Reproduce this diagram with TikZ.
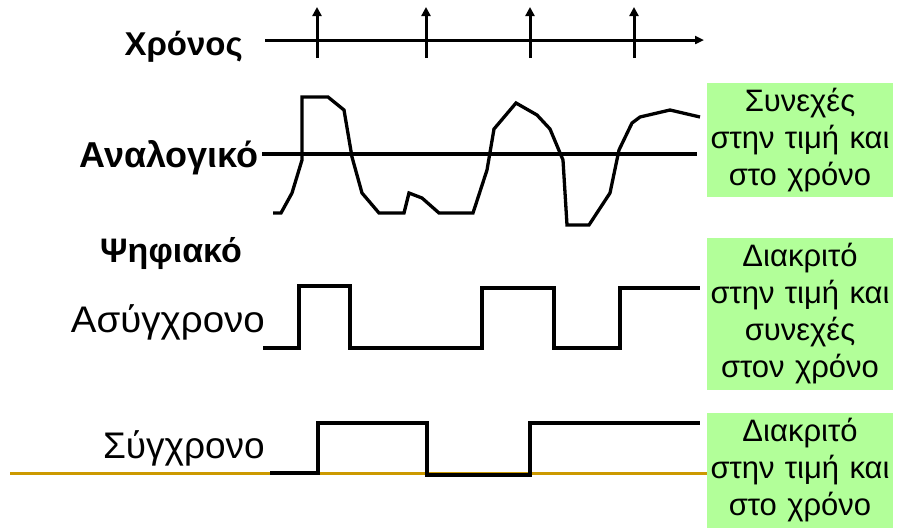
\documentclass[tikz,border=0pt]{standalone}
\usepackage{fontspec}
\setmainfont{Liberation Sans}
\usetikzlibrary{arrows.meta}
\definecolor{boxgreen}{RGB}{178,255,153}
\definecolor{ochre}{RGB}{204,153,0}
% slightly widened text
\newcommand{\widetext}[2]{\scalebox{#1}[1]{#2}}
\newcommand{\fsz}[1]{\fontsize{#1}{#1}\selectfont}
\begin{document}
\begin{tikzpicture}[x=1pt,y=-1pt,
  wave/.style={line width=3.3pt,line join=miter,black},
  axisline/.style={line width=3pt,black},
  tickarrow/.style={line width=3pt,-{Triangle[length=9pt,width=9pt]}},
  label/.style={inner sep=0pt,font=\fsz{37}},
  boldlabel/.style={inner sep=0pt,font=\bfseries},
  notebox/.style={fill=boxgreen,inner sep=0pt,minimum width=186pt,
    text width=186pt,align=center,font=\fontsize{31}{37}\selectfont}]
\useasboundingbox (0,0) rectangle (898,531);

% time axis with sampling instants
\draw[axisline,-{Triangle[length=9pt,width=8pt]}] (265,40) -- (704,40);
\foreach \t in {317,426,530,634}
  \draw[tickarrow] (\t,58) -- (\t,7);
\node[boldlabel,anchor=base east] (time) at (243,55) {\fsz{33}Χρόνος};

% analog signal
\node[boldlabel,anchor=base east] (analog) at (259,167) {\fsz{36}Αναλογικό};
\draw[axisline,line width=3.8pt] (262,154) -- (697,154);
\draw[wave] (273,213) -- (281,213) -- (292,193) -- (302,160) -- (302,97)
  -- (328,97) -- (344,110) -- (352,157) -- (362,193) -- (379,213)
  -- (404,213) -- (409,193) -- (422,198) -- (439,213) -- (473,213)
  -- (487,170) -- (494,129) -- (516,103) -- (537,115) -- (550,129)
  -- (563,160) -- (567,225) -- (589,225) -- (610,193) -- (619,150)
  -- (632,123) -- (640,117) -- (670,110) -- (700,117);
\node[notebox,minimum height=114pt] (n1) at (800,140)
  {Συνεχές\\στην τιμή και\\στο χρόνο};

% digital signals
\node[boldlabel,anchor=base] (digital) at (171,262) {\fsz{34}Ψηφιακό};

\node[label,anchor=base east] (async) at (265,332) {\widetext{1.04}{Ασύγχρονο}};
\draw[wave] (263,348) -- (299,348) -- (299,286) -- (350,286) -- (350,348)
  -- (482,348) -- (482,288) -- (554,288) -- (554,348) -- (620,348)
  -- (620,288) -- (700,288);
\node[notebox,minimum height=152pt] (n2) at (800,314)
  {Διακριτό\\στην τιμή και\\συνεχές\\στον χρόνο};

\node[label,anchor=base east] (sync) at (265,458) {Σύγχρονο};
\draw[ochre,line width=3pt] (10,473) -- (707,473);
\draw[wave] (270,473) -- (318,473) -- (318,423) -- (427,423) -- (427,475)
  -- (530,475) -- (530,423) -- (700,423);
\node[notebox,minimum height=115pt] (n3) at (800,470.5)
  {Διακριτό\\στην τιμή και\\στο χρόνο};
\end{tikzpicture}
\end{document}
